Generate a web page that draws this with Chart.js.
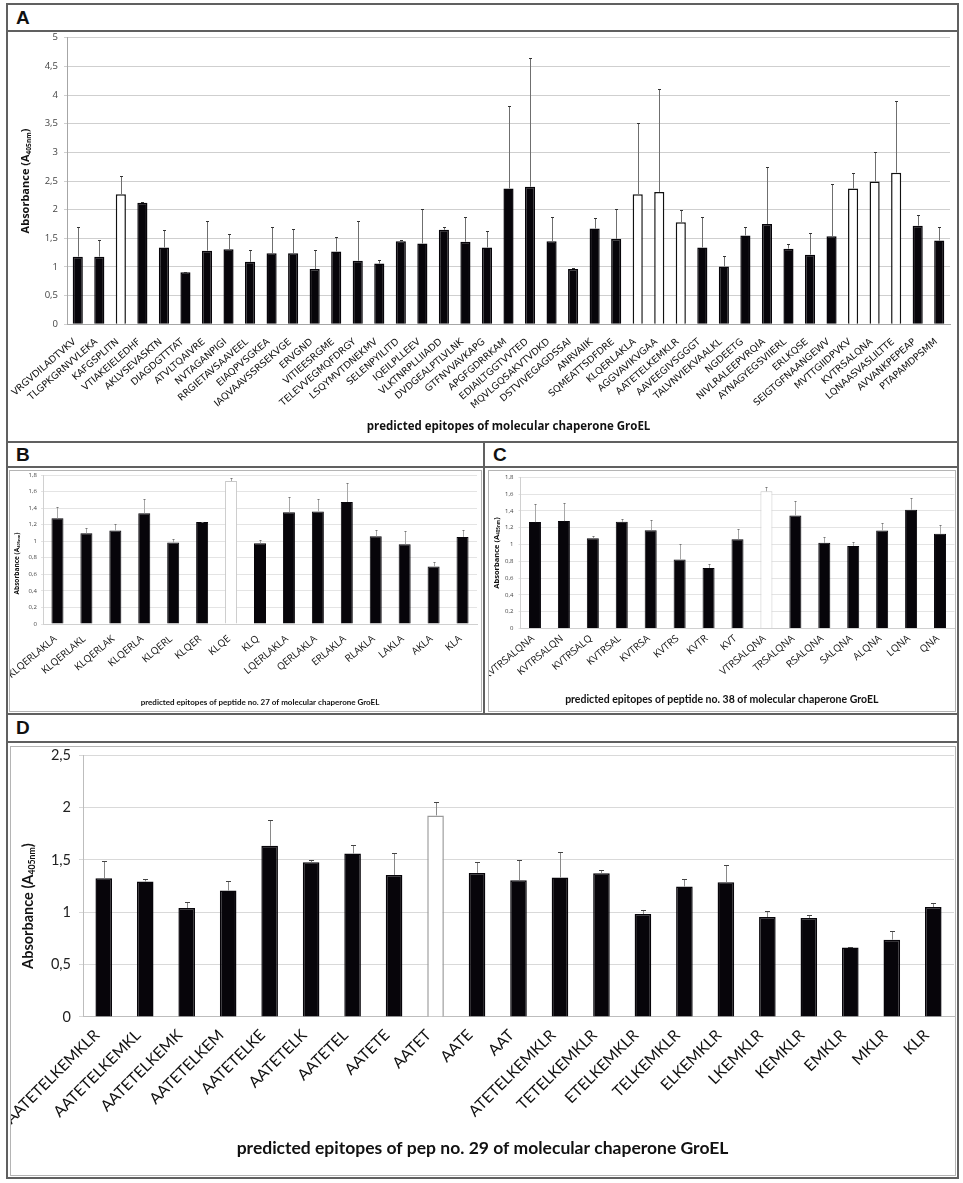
<!DOCTYPE html>
<html lang="en">
<head>
<meta charset="UTF-8">
<title>Predicted epitopes of GroEL</title>
<script src="https://cdn.jsdelivr.net/npm/chart.js"></script>
<style>
  body { margin: 0; background: #fff; width: 963px; height: 1183px; position: relative; overflow: hidden; }
  .panel { position: absolute; box-sizing: border-box; border: 2px solid #606060; }
  .head { position: absolute; left: 0; right: 0; top: 0; box-sizing: border-box; border-bottom: 2px solid #606060;
          font: bold 19px "Liberation Sans", Arial, sans-serif; color: #111; padding-left: 8px; }
  .inner { position: absolute; box-sizing: border-box; border: 1px solid #b4b4b4; }
  canvas { position: absolute; }
</style>
</head>
<body>
<div class="panel" style="left:6px;top:3px;width:953px;height:440px">
  <div class="head" style="height:27px;line-height:25px">A</div>
</div>
<div class="panel" style="left:6px;top:441px;width:479px;height:274px">
  <div class="head" style="height:25px;line-height:23px">B</div>
</div>
<div class="panel" style="left:483px;top:441px;width:476px;height:274px">
  <div class="head" style="height:25px;line-height:23px">C</div>
</div>
<div class="panel" style="left:6px;top:713px;width:953px;height:466px">
  <div class="head" style="height:28px;line-height:26px">D</div>
</div>
<div class="inner" style="left:9px;top:470px;width:473px;height:242px"></div>
<div class="inner" style="left:488px;top:470px;width:468px;height:242px"></div>
<div class="inner" style="left:10px;top:746px;width:946px;height:430px"></div>

<canvas id="chartA" width="948" height="408" style="left:8px;top:32px"></canvas>
<canvas id="chartB" width="471" height="240" style="left:10px;top:471px"></canvas>
<canvas id="chartC" width="466" height="240" style="left:489px;top:471px"></canvas>
<canvas id="chartD" width="944" height="428" style="left:11px;top:747px"></canvas>

<script>
// A: predicted epitopes of GroEL
const groelLabels = ['VRGVDILADTVKV', 'TLGPKGRNVVLEKA', 'KAFGSPLITN', 'VTIAKEIELEDHF', 'AKLVSEVASKTN',
  'DIAGDGTTTAT', 'ATVLTQAIVRE', 'NVTAGANPIGI', 'RRGIETAVSAAVEEL', 'EIAQPVSGKEA', 'IAQVAAVSSRSEKVGE',
  'ERVGND', 'VITIEESRGME', 'TELEVVEGMQFDRGY', 'LSQYMVTDNEKMV', 'SELENPYILITD', 'IQEILPLLEEV',
  'VLKTNRPLLIIADD', 'DVDGEALPTLVLNK', 'GTFNVVAVKAPG', 'APGFGDRRKAM', 'EDIAILTGGTVVTED',
  'MQVLGQSAKVTVDKD', 'DSTVIVEGAGDSSAI', 'ANRVAIIK', 'SQMEATTSDFDRE', 'KLQERLAKLA', 'AGGVAVIKVGAA',
  'AATETELKEMKLR', 'AAVEEGIVSGGGT', 'TALVNVIEKVAALKL', 'NGDEETG', 'NIVLRALEEPVRQIA',
  'AYNAGYEGSVIIERL', 'ERLKQSE', 'SEIGTGFNAANGEWV', 'MVTTGIIDPVKV', 'KVTRSALQNA',
  'LQNAASVASLILTTE', 'AVVANKPEPEAP', 'PTAPAMDPSMM'];
const groelMeans = [1.18, 1.18, 2.27, 2.12, 1.34, 0.91, 1.285, 1.31, 1.09, 1.24, 1.24, 0.965, 1.27, 1.11,
  1.06, 1.45, 1.41, 1.65, 1.44, 1.34, 2.37, 2.40, 1.45, 0.965, 1.67, 1.49, 2.27, 2.31, 1.78, 1.34, 1.01,
  1.55, 1.75, 1.32, 1.215, 1.535, 2.37, 2.49, 2.645, 1.72, 1.46];
const groelErr = [0.52, 0.285, 0.32, 0.02, 0.305, 0.01, 0.525, 0.27, 0.20, 0.46, 0.43, 0.325, 0.26, 0.70,
  0.07, 0.015, 0.61, 0.05, 0.43, 0.28, 1.43, 2.25, 0.42, 0.025, 0.18, 0.53, 1.25, 1.80, 0.21, 0.54, 0.18,
  0.14, 0.99, 0.075, 0.385, 0.905, 0.275, 0.52, 1.245, 0.19, 0.24];
const groelHits = [2, 26, 27, 28, 36, 37, 38];

// B: epitopes of peptide no. 27
const pep27Labels = ['KLQERLAKLA', 'KLQERLAKL', 'KLQERLAK', 'KLQERLA', 'KLQERL', 'KLQER', 'KLQE', 'KLQ',
  'LQERLAKLA', 'QERLAKLA', 'ERLAKLA', 'RLAKLA', 'LAKLA', 'AKLA', 'KLA'];
const pep27Means = [1.277, 1.096, 1.129, 1.338, 0.984, 1.233, 1.727, 0.976, 1.35, 1.36, 1.474, 1.06, 0.964, 0.695, 1.052];
const pep27Err = [0.133, 0.061, 0.076, 0.172, 0.044, 0.005, 0.033, 0.036, 0.185, 0.146, 0.226, 0.073, 0.161, 0.052, 0.088];
const pep27Hits = [6];

// C: epitopes of peptide no. 38
const pep38Labels = ['KVTRSALQNA', 'KVTRSALQN', 'KVTRSALQ', 'KVTRSAL', 'KVTRSA', 'KVTRS', 'KVTR', 'KVT',
  'VTRSALQNA', 'TRSALQNA', 'RSALQNA', 'SALQNA', 'ALQNA', 'LQNA', 'QNA'];
const pep38Means = [1.267, 1.279, 1.076, 1.27, 1.171, 0.821, 0.721, 1.064, 1.633, 1.346, 1.02, 0.984, 1.167, 1.414, 1.127];
const pep38Err = [0.213, 0.211, 0.031, 0.036, 0.119, 0.187, 0.049, 0.126, 0.056, 0.171, 0.064, 0.048, 0.092, 0.139, 0.10];
const pep38Hits = [8];

// D: epitopes of pep no. 29
const pep29Labels = ['AATETELKEMKLR', 'AATETELKEMKL', 'AATETELKEMK', 'AATETELKEM', 'AATETELKE', 'AATETELK',
  'AATETEL', 'AATETE', 'AATET', 'AATE', 'AAT', 'ATETELKEMKLR', 'TETELKEMKLR', 'ETELKEMKLR', 'TELKEMKLR',
  'ELKEMKLR', 'LKEMKLR', 'KEMKLR', 'EMKLR', 'MKLR', 'KLR'];
const pep29Means = [1.325, 1.293, 1.041, 1.207, 1.635, 1.478, 1.561, 1.357, 1.925, 1.376, 1.306, 1.331,
  1.373, 0.983, 1.245, 1.287, 0.955, 0.945, 0.664, 0.738, 1.05];
const pep29Err = [0.165, 0.022, 0.057, 0.093, 0.245, 0.019, 0.077, 0.208, 0.131, 0.104, 0.194, 0.246,
  0.032, 0.039, 0.074, 0.169, 0.054, 0.032, 0.003, 0.079, 0.042];
const pep29Hits = [8];

// one-sided error bars on top of each bar
const errorBars = {
  id: 'errorBars',
  afterDatasetsDraw(chart, args, o) {
    const ctx = chart.ctx;
    const y = chart.scales.y;
    const values = chart.data.datasets[0].data;
    ctx.save();
    ctx.lineWidth = o.lineWidth;
    chart.getDatasetMeta(0).data.forEach((bar, i) => {
      const x = Math.round(bar.x) + 0.5;
      const top = Math.round(y.getPixelForValue(values[i] + o.errors[i])) + 0.5;
      ctx.strokeStyle = o.color;
      ctx.beginPath();
      ctx.moveTo(x, bar.y);
      ctx.lineTo(x, top);
      ctx.stroke();
      ctx.strokeStyle = o.capColor;
      ctx.beginPath();
      ctx.moveTo(x - o.cap, top);
      ctx.lineTo(x + o.cap, top);
      ctx.stroke();
    });
    ctx.restore();
  }
};

// rotated y title with subscript
const absorbanceTitle = {
  id: 'absorbanceTitle',
  afterDraw(chart, args, o) {
    const {ctx, chartArea} = chart;
    const cy = (chartArea.top + chartArea.bottom) / 2 + o.shift;
    const main = 'bold ' + o.size + 'px ' + o.family;
    const small = 'bold ' + (o.size * 0.6) + 'px ' + o.family;
    const parts = [[o.text[0], main, 0], [o.text[1], small, o.size * 0.28], [o.text[2], main, 0]];
    ctx.save();
    ctx.translate(o.x, cy);
    ctx.rotate(-Math.PI / 2);
    ctx.fillStyle = '#111';
    ctx.textBaseline = 'middle';
    let total = 0;
    parts.forEach(p => { ctx.font = p[1]; p.push(ctx.measureText(p[0]).width); total += p[3]; });
    let x = -total / 2;
    parts.forEach(p => { ctx.font = p[1]; ctx.fillText(p[0], x, p[2]); x += p[3]; });
    ctx.restore();
  }
};

const commaTick = v => String(+v.toFixed(2)).replace('.', ',');

function makeChart(id, labels, means, errs, hits, s) {
  const fill = labels.map((_, i) => hits.includes(i) ? '#ffffff' : '#07050a');
  const edge = labels.map((_, i) => hits.includes(i) ? s.hitEdge : '#07050a');
  return new Chart(document.getElementById(id), {
    type: 'bar',
    data: {
      labels: labels,
      datasets: [{
        data: means,
        backgroundColor: fill,
        borderColor: edge,
        borderWidth: s.edgeWidth,
        barPercentage: s.bar,
        categoryPercentage: 1
      }]
    },
    options: {
      responsive: false,
      animation: false,
      devicePixelRatio: 1,
      layout: { padding: { top: s.padTop, right: s.padRight, left: 0, bottom: 0 } },
      plugins: {
        legend: { display: false },
        tooltip: { enabled: false },
        title: s.title || { display: false },
        errorBars: { errors: errs, color: s.errColor, capColor: s.capColor, cap: s.cap, lineWidth: 1 },
        absorbanceTitle: { text: ['Absorbance (A', '405nm', ')'], x: s.yTitleX, shift: s.yTitleShift,
                           size: s.yTitleSize, family: s.yTitleFamily }
      },
      scales: {
        x: {
          grid: { display: false, drawTicks: false },
          border: { display: true, color: s.axisColor },
          ticks: { autoSkip: false, minRotation: s.rot, maxRotation: s.rot, padding: s.xPad,
                   labelOffset: s.xShift, color: '#111', font: s.xFont },
          title: s.xTitle || { display: false },
          afterFit(sc) { sc.height = s.xHeight; sc.paddingLeft = 0; sc.paddingRight = 0; }
        },
        y: {
          min: 0,
          max: s.max,
          ticks: { stepSize: s.step, padding: s.yPad, color: s.tickColor, font: s.yFont, callback: commaTick },
          grid: { color: s.gridColor, tickLength: s.tickLen },
          border: { color: s.axisColor },
          afterFit(sc) { sc.width = s.yWidth; sc.paddingTop = 0; sc.paddingBottom = 0; }
        }
      }
    },
    plugins: [errorBars, absorbanceTitle]
  });
}

makeChart('chartA', groelLabels, groelMeans, groelErr, groelHits, {
  hitEdge: '#111', edgeWidth: 1.5, bar: 0.47, padTop: 5.7, padRight: 6,
  errColor: '#6f6f6f', capColor: '#333', cap: 1.5,
  yTitleX: 18, yTitleShift: 0, yTitleSize: 11, yTitleFamily: '"Open Sans"',
  axisColor: '#a6a6a6', rot: 41, xPad: 12, xShift: -3,
  xFont: { family: '"DejaVu Sans"', size: 9.5 },
  xTitle: { display: true, text: 'predicted epitopes of molecular chaperone GroEL', color: '#111',
            font: { family: '"Open Sans"', weight: 'bold', size: 11.5 }, padding: { top: 0, bottom: 6.4 } },
  xHeight: 115.7, max: 5, step: 0.5, yPad: 6, tickColor: '#444',
  yFont: { family: '"Open Sans"', size: 9.5 }, gridColor: '#cfcfcf', tickLen: 3, yWidth: 59
});

makeChart('chartB', pep27Labels, pep27Means, pep27Err, pep27Hits, {
  hitEdge: '#c8c8c8', edgeWidth: 1, bar: 0.415, padTop: 4, padRight: 4,
  errColor: '#a8a8a8', capColor: '#777', cap: 1,
  yTitleX: 7, yTitleShift: 14, yTitleSize: 6.5, yTitleFamily: '"Open Sans"',
  axisColor: '#d0d0d0', rot: 40, xPad: 9, xShift: -2,
  xFont: { family: '"Open Sans"', size: 10 },
  xTitle: { display: true, text: 'predicted epitopes of peptide no. 27 of molecular chaperone GroEL', color: '#111',
            font: { family: 'Lato', weight: 'bold', size: 8 }, padding: { top: 0, bottom: 4.2 } },
  xHeight: 87, max: 1.8, step: 0.2, yPad: 4, tickColor: '#444',
  yFont: { family: '"Open Sans"', size: 6 }, gridColor: '#e4e4e4', tickLen: 2, yWidth: 33
});

makeChart('chartC', pep38Labels, pep38Means, pep38Err, pep38Hits, {
  hitEdge: '#c8c8c8', edgeWidth: 1, bar: 0.415, padTop: 6.3, padRight: 0.5,
  errColor: '#a8a8a8', capColor: '#777', cap: 1,
  yTitleX: 8, yTitleShift: 0, yTitleSize: 7.5, yTitleFamily: '"Open Sans"',
  axisColor: '#d0d0d0', rot: 40, xPad: 4, xShift: -2,
  xFont: { family: '"Open Sans"', size: 10 },
  title: { display: true, position: 'bottom', text: 'predicted epitopes of peptide no. 38 of molecular chaperone GroEL',
           color: '#111', font: { family: 'Lato', weight: 'bold', size: 10.5 }, padding: { top: 0, bottom: 5.4 } },
  xHeight: 64.4, max: 1.8, step: 0.2, yPad: 5, tickColor: '#444',
  yFont: { family: '"Open Sans"', size: 6 }, gridColor: '#e4e4e4', tickLen: 2, yWidth: 31.5
});

makeChart('chartD', pep29Labels, pep29Means, pep29Err, pep29Hits, {
  hitEdge: '#9a9a9a', edgeWidth: 1.5, bar: 0.40, padTop: 8.3, padRight: 1,
  errColor: '#8a8a8a', capColor: '#444', cap: 2.5,
  yTitleX: 17, yTitleShift: 20, yTitleSize: 14.5, yTitleFamily: 'Lato',
  axisColor: '#bdbdbd', rot: 45, xPad: 9, xShift: -7,
  xFont: { family: 'Lato', size: 15.5 },
  title: { display: true, position: 'bottom', text: 'predicted epitopes of pep no. 29 of molecular chaperone GroEL',
           color: '#111', font: { family: 'Lato', weight: 'bold', size: 17.5 }, padding: { top: 0, bottom: 16.2 } },
  xHeight: 120.9, max: 2.5, step: 0.5, yPad: 8, tickColor: '#222',
  yFont: { family: 'Lato', size: 14.5 }, gridColor: '#d9d9d9', tickLen: 4, yWidth: 72
});
</script>
</body>
</html>
